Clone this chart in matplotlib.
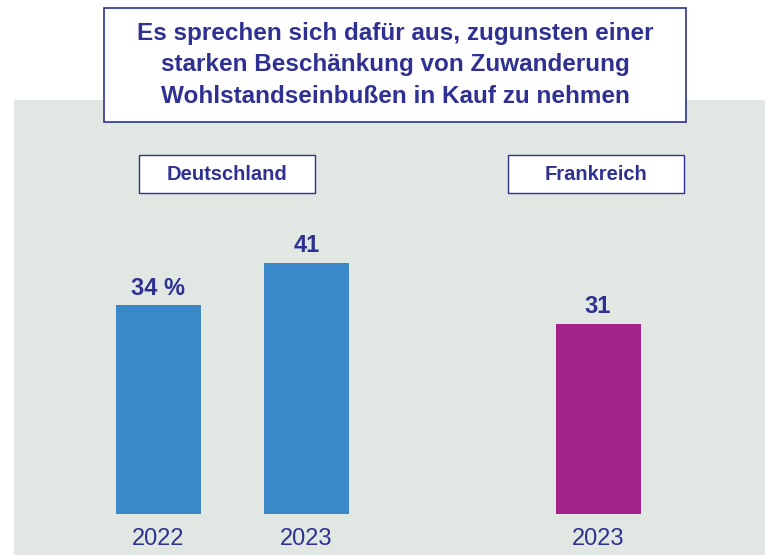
import matplotlib
matplotlib.use("Agg")
import matplotlib.pyplot as plt
from matplotlib.patches import Rectangle

# data
title = "Es sprechen sich dafür aus, zugunsten einer\nstarken Beschänkung von Zuwanderung\nWohlstandseinbußen in Kauf zu nehmen"
groups = ["Deutschland", "Frankreich"]
years = ["2022", "2023", "2023"]
values = [34, 41, 31]
value_labels = ["34 %", "41", "31"]

positions = [0, 1, 2.97]
colors = ["#3B88C8", "#3B88C8", "#A3238A"]
navy = "#2E3192"
panel = "#E1E7E3"

plt.rcParams["font.family"] = ["Liberation Sans", "DejaVu Sans"]

fig = plt.figure(figsize=(7.65, 5.55), dpi=100)
fig.patch.set_facecolor("white")

W, H = 765, 555

# gray panel axes (pixel geometry of the reference)
ax = fig.add_axes([14 / W, 0, 751 / W, 455 / H])
ax.set_facecolor(panel)
ax.bar(positions, values, width=0.574, color=colors)
ax.set_xlim(-0.976, 4.098)
ax.set_ylim(-6.69, 67.5)
for s in ax.spines.values():
    s.set_visible(False)
ax.set_xticks([])
ax.set_yticks([])

for x, v, lab in zip(positions, values, value_labels):
    ax.annotate(lab, (x, v), xytext=(0, 12.5), textcoords="offset points",
                ha="center", va="center", fontsize=17, fontweight="bold", color=navy)

for x, yr in zip(positions, years):
    ax.text(x, -4, yr, ha="center", va="center", fontsize=17, color=navy)


def box(x0, y0, x1, y1, text, size, lw, ls=1.2):
    r = Rectangle((x0 / W, 1 - y1 / H), (x1 - x0) / W, (y1 - y0) / H,
                  transform=fig.transFigure, facecolor="white", edgecolor=navy,
                  linewidth=lw, zorder=5)
    fig.patches.append(r)
    fig.text((x0 + x1) / 2 / W, 1 - (y0 + y1) / 2 / H, text, ha="center", va="center",
             fontsize=size, fontweight="bold", color=navy, linespacing=ls, zorder=6)


box(104, 8, 686, 122, title, 17.5, 1.2, ls=1.45)
box(139, 155, 315, 193, groups[0], 14.5, 1.0)
box(508, 155, 684, 193, groups[1], 14.5, 1.0)

fig.savefig("out.png", dpi=100)
